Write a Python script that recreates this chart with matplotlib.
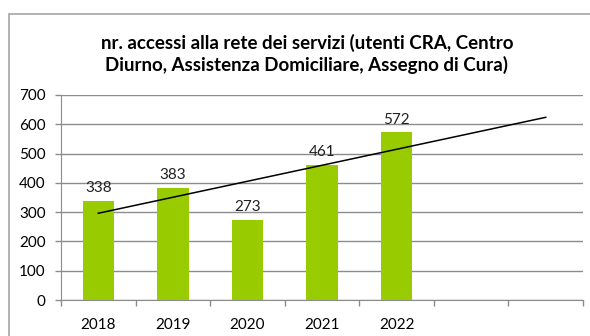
import numpy as np
import matplotlib
matplotlib.use('Agg')
import matplotlib.pyplot as plt
from matplotlib.patches import Rectangle

# dati: accessi annui alla rete dei servizi
anni = ['2018', '2019', '2020', '2021', '2022', '', '']
accessi = [338, 383, 273, 461, 572]
titolo = 'nr. accessi alla rete dei servizi (utenti CRA, Centro\nDiurno, Assistenza Domiciliare, Assegno di Cura)'

plt.rcParams['font.family'] = ['Lato', 'DejaVu Sans']

fig = plt.figure(figsize=(5.9, 3.36), dpi=100)
ax = fig.add_axes([61 / 590, 1 - 300 / 336, (583 - 61) / 590, (300 - 95) / 336])

# cornice del grafico
fig.patches.append(Rectangle((9 / 590, -0.1), 1.1, 1 - 14 / 336 + 0.1,
                             transform=fig.transFigure, fill=False,
                             edgecolor='#a6a6a6', linewidth=1.2))

x = np.arange(len(accessi))
ax.bar(x, accessi, width=0.42, color='#99cc00', zorder=3)
for xi, v in zip(x, accessi):
    ax.text(xi, v + 20, str(v), ha='center', va='bottom', fontsize=11, color='#222222')

# linea di tendenza lineare, prolungata di due periodi
coef = np.polyfit(x, accessi, 1)
xt = np.array([0, len(accessi) + 1])
ax.plot(xt, np.polyval(coef, xt), color='black', linewidth=1.1, zorder=4)

ax.set_xlim(-0.5, len(anni) - 0.5)
ax.set_ylim(0, 700)
ax.set_yticks(range(0, 701, 100))
ax.yaxis.grid(True, color='#8c8c8c', linewidth=1, zorder=0)
ax.set_xticks(np.arange(len(anni) + 1) - 0.5, minor=True)
ax.set_xticks(np.arange(len(anni)))
ax.set_xticklabels(anni)
ax.tick_params(axis='x', which='major', length=0, pad=13, labelsize=11)
ax.tick_params(axis='x', which='minor', length=4, color='#8c8c8c', width=1)
ax.tick_params(axis='y', length=4, color='#8c8c8c', width=1, labelsize=11, pad=7)

for s in ['top', 'right']:
    ax.spines[s].set_visible(False)
ax.spines['left'].set_color('#8c8c8c')
ax.spines['bottom'].set_color('#8c8c8c')

fig.text(0.52, 1 - 54 / 336, titolo, ha='center', va='center',
         fontsize=13.5, fontweight='bold', linespacing=1.3)

fig.savefig('out.png', dpi=100)
